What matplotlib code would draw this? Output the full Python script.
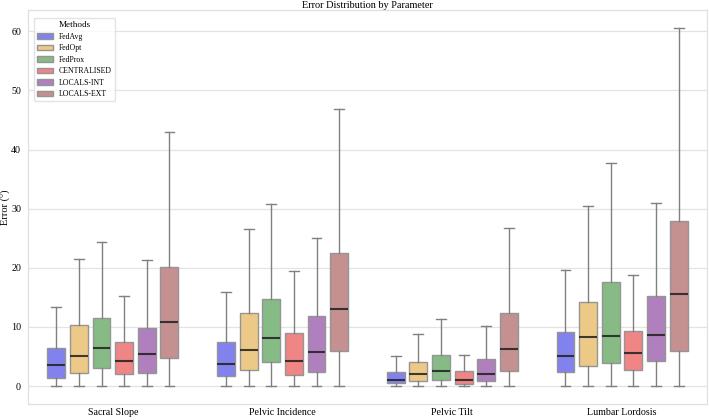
import matplotlib
matplotlib.use("Agg")
import matplotlib.pyplot as plt
from matplotlib.patches import Patch
import numpy as np

params = ["Sacral Slope", "Pelvic Incidence", "Pelvic Tilt", "Lumbar Lordosis"]
methods = ["FedAvg", "FedOpt", "FedProx", "CENTRALISED", "LOCALS-INT", "LOCALS-EXT"]
colors = ["#8282ee", "#edc987", "#86bb86", "#ef8585", "#b07fbd", "#c49090"]

# per method: values for each parameter (Sacral Slope, Pelvic Incidence, Pelvic Tilt, Lumbar Lordosis)
whislo = {
    "FedAvg":      [0.0, 0.0, 0.0, 0.0],
    "FedOpt":      [0.0, 0.0, 0.0, 0.0],
    "FedProx":     [0.0, 0.0, 0.0, 0.0],
    "CENTRALISED": [0.0, 0.0, 0.0, 0.0],
    "LOCALS-INT":  [0.0, 0.0, 0.0, 0.0],
    "LOCALS-EXT":  [0.0, 0.0, 0.0, 0.0],
}
q1 = {
    "FedAvg":      [1.4, 1.7, 0.5, 2.4],
    "FedOpt":      [2.25, 2.7, 0.85, 3.4],
    "FedProx":     [3.1, 4.1, 1.1, 3.95],
    "CENTRALISED": [2.0, 1.9, 0.4, 2.7],
    "LOCALS-INT":  [2.25, 2.4, 0.95, 4.2],
    "LOCALS-EXT":  [4.7, 5.9, 2.6, 5.9],
}
med = {
    "FedAvg":      [3.5, 3.7, 1.1, 5.1],
    "FedOpt":      [5.1, 6.1, 2.0, 8.35],
    "FedProx":     [6.4, 8.1, 2.5, 8.5],
    "CENTRALISED": [4.2, 4.3, 1.07, 5.6],
    "LOCALS-INT":  [5.35, 5.7, 2.0, 8.6],
    "LOCALS-EXT":  [10.9, 13.0, 6.35, 15.6],
}
q3 = {
    "FedAvg":      [6.4, 7.4, 2.4, 9.2],
    "FedOpt":      [10.3, 12.4, 4.0, 14.2],
    "FedProx":     [11.6, 14.8, 5.3, 17.6],
    "CENTRALISED": [7.5, 8.9, 2.5, 9.3],
    "LOCALS-INT":  [9.9, 11.9, 4.6, 15.2],
    "LOCALS-EXT":  [20.1, 22.5, 12.3, 27.9],
}
whishi = {
    "FedAvg":      [13.3, 15.9, 5.06, 19.6],
    "FedOpt":      [21.5, 26.5, 8.8, 30.4],
    "FedProx":     [24.3, 30.8, 11.35, 37.7],
    "CENTRALISED": [15.2, 19.4, 5.3, 18.85],
    "LOCALS-INT":  [21.3, 25.1, 10.1, 30.9],
    "LOCALS-EXT":  [43.0, 46.9, 26.8, 60.55],
}

plt.rcParams["font.family"] = ["Liberation Serif", "DejaVu Serif"]

fig = plt.figure(figsize=(7.09, 4.20), dpi=100)
ax = fig.add_axes([0.0395, 0.038, 0.9575, 0.938])

n = len(methods)
group_w = 0.8
slot = group_w / n
box_w = slot * 0.79

for i, m in enumerate(methods):
    offset = -group_w / 2 + slot * (i + 0.5)
    stats = []
    for j, p in enumerate(params):
        stats.append(dict(whislo=whislo[m][j], q1=q1[m][j], med=med[m][j],
                          q3=q3[m][j], whishi=whishi[m][j], fliers=[], label=p))
    positions = np.arange(len(params)) + offset
    ax.bxp(stats, positions=positions, widths=box_w, patch_artist=True,
           showfliers=False, manage_ticks=False,
           boxprops=dict(facecolor=colors[i], edgecolor="#959595", linewidth=1.0),
           whiskerprops=dict(color="#808080", linewidth=1.0),
           capprops=dict(color="#808080", linewidth=1.0),
           capwidths=box_w * 0.55,
           medianprops=dict(color="#1f1f1f", linewidth=1.5, alpha=0.85))

ax.set_xlim(-0.5, len(params) - 0.5)
ax.set_xticks(np.arange(len(params)))
ax.set_xticklabels(params, fontsize=7.2)
ax.set_yticks([0, 10, 20, 30, 40, 50, 60])
ax.tick_params(axis="y", labelsize=7.2, length=0, pad=5)
ax.tick_params(axis="x", length=0, pad=3)
ax.set_ylabel("Error (°)", fontsize=7.5)
ax.yaxis.set_label_coords(-0.025, 0.5)
ax.set_title("Error Distribution by Parameter", fontsize=7.4, pad=1)
ax.yaxis.grid(True, color="#e3e3e3", linewidth=0.9)
ax.set_axisbelow(True)
for s in ax.spines.values():
    s.set_color("#e0e0e0")
    s.set_linewidth(0.9)

handles = [Patch(facecolor=c, edgecolor="#959595", label=m) for m, c in zip(methods, colors)]
leg = ax.legend(handles=handles, title="Methods", loc="upper left", fontsize=5.6,
                title_fontsize=6.6, frameon=True, handlelength=2.1, handleheight=0.7,
                labelspacing=0.45, borderpad=0.4, handletextpad=0.7,
                bbox_to_anchor=(0.003, 0.99))
leg.get_frame().set_edgecolor("#dddddd")

fig.savefig("out.png", dpi=100)
